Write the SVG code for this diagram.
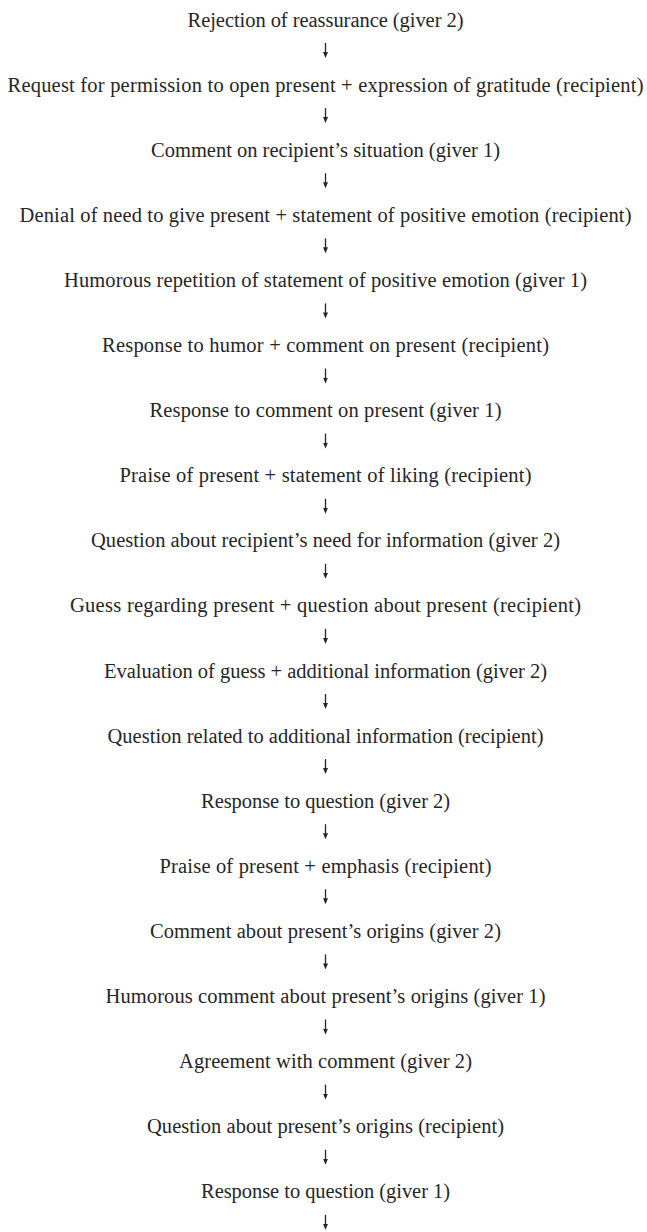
<svg xmlns="http://www.w3.org/2000/svg" width="647" height="1232" viewBox="0 0 647 1232">
<defs>
<style>
.t{font-family:"Liberation Serif","Times New Roman","DejaVu Serif",serif;font-size:20.5px;fill:#262626;text-anchor:middle}
.c{stroke:#262626;stroke-width:1.3;fill:none}
</style>
<marker id="ah" viewBox="0 0 6 5" markerWidth="6" markerHeight="5" refX="0.5" refY="2.5" orient="auto" markerUnits="userSpaceOnUse"><path d="M0,0 L6,2.5 L0,5 z" fill="#262626"/></marker>
</defs>
<rect width="647" height="1232" fill="#fff"/>
<g id="connectors">
<line class="c" x1="325.5" y1="43" x2="325.5" y2="52.5" marker-end="url(#ah)"/>
<line class="c" x1="325.5" y1="108.1" x2="325.5" y2="117.6" marker-end="url(#ah)"/>
<line class="c" x1="325.5" y1="173.2" x2="325.5" y2="182.7" marker-end="url(#ah)"/>
<line class="c" x1="325.5" y1="238.3" x2="325.5" y2="247.8" marker-end="url(#ah)"/>
<line class="c" x1="325.5" y1="303.4" x2="325.5" y2="312.9" marker-end="url(#ah)"/>
<line class="c" x1="325.5" y1="368.5" x2="325.5" y2="378" marker-end="url(#ah)"/>
<line class="c" x1="325.5" y1="433.6" x2="325.5" y2="443.1" marker-end="url(#ah)"/>
<line class="c" x1="325.5" y1="498.7" x2="325.5" y2="508.2" marker-end="url(#ah)"/>
<line class="c" x1="325.5" y1="563.8" x2="325.5" y2="573.3" marker-end="url(#ah)"/>
<line class="c" x1="325.5" y1="628.9" x2="325.5" y2="638.4" marker-end="url(#ah)"/>
<line class="c" x1="325.5" y1="694" x2="325.5" y2="703.5" marker-end="url(#ah)"/>
<line class="c" x1="325.5" y1="759.1" x2="325.5" y2="768.6" marker-end="url(#ah)"/>
<line class="c" x1="325.5" y1="824.2" x2="325.5" y2="833.7" marker-end="url(#ah)"/>
<line class="c" x1="325.5" y1="889.3" x2="325.5" y2="898.8" marker-end="url(#ah)"/>
<line class="c" x1="325.5" y1="954.4" x2="325.5" y2="963.9" marker-end="url(#ah)"/>
<line class="c" x1="325.5" y1="1019.5" x2="325.5" y2="1029" marker-end="url(#ah)"/>
<line class="c" x1="325.5" y1="1084.6" x2="325.5" y2="1094.1" marker-end="url(#ah)"/>
<line class="c" x1="325.5" y1="1149.7" x2="325.5" y2="1159.2" marker-end="url(#ah)"/>
<line class="c" x1="325.5" y1="1214.8" x2="325.5" y2="1224.3" marker-end="url(#ah)"/>
</g>
<g id="n1"><text class="t" x="325.5" y="26.5" textLength="276" lengthAdjust="spacing">Rejection of reassurance (giver 2)</text></g>
<g id="n2"><text class="t" x="325.5" y="91.6" textLength="636" lengthAdjust="spacing">Request for permission to open present + expression of gratitude (recipient)</text></g>
<g id="n3"><text class="t" x="325.5" y="156.7" textLength="349" lengthAdjust="spacing">Comment on recipient’s situation (giver 1)</text></g>
<g id="n4"><text class="t" x="325.5" y="221.8" textLength="612" lengthAdjust="spacing">Denial of need to give present + statement of positive emotion (recipient)</text></g>
<g id="n5"><text class="t" x="325.5" y="286.9" textLength="523" lengthAdjust="spacing">Humorous repetition of statement of positive emotion (giver 1)</text></g>
<g id="n6"><text class="t" x="325.5" y="352" textLength="447" lengthAdjust="spacing">Response to humor + comment on present (recipient)</text></g>
<g id="n7"><text class="t" x="325.5" y="417.1" textLength="352" lengthAdjust="spacing">Response to comment on present (giver 1)</text></g>
<g id="n8"><text class="t" x="325.5" y="482.2" textLength="412" lengthAdjust="spacing">Praise of present + statement of liking (recipient)</text></g>
<g id="n9"><text class="t" x="325.5" y="547.3" textLength="469" lengthAdjust="spacing">Question about recipient’s need for information (giver 2)</text></g>
<g id="n10"><text class="t" x="325.5" y="612.4" textLength="511" lengthAdjust="spacing">Guess regarding present + question about present (recipient)</text></g>
<g id="n11"><text class="t" x="325.5" y="677.5" textLength="443" lengthAdjust="spacing">Evaluation of guess + additional information (giver 2)</text></g>
<g id="n12"><text class="t" x="325.5" y="742.6" textLength="436" lengthAdjust="spacing">Question related to additional information (recipient)</text></g>
<g id="n13"><text class="t" x="325.5" y="807.7" textLength="249" lengthAdjust="spacing">Response to question (giver 2)</text></g>
<g id="n14"><text class="t" x="325.5" y="872.8" textLength="332" lengthAdjust="spacing">Praise of present + emphasis (recipient)</text></g>
<g id="n15"><text class="t" x="325.5" y="937.9" textLength="351" lengthAdjust="spacing">Comment about present’s origins (giver 2)</text></g>
<g id="n16"><text class="t" x="325.5" y="1003" textLength="440" lengthAdjust="spacing">Humorous comment about present’s origins (giver 1)</text></g>
<g id="n17"><text class="t" x="325.5" y="1068.1" textLength="293" lengthAdjust="spacing">Agreement with comment (giver 2)</text></g>
<g id="n18"><text class="t" x="325.5" y="1133.2" textLength="357" lengthAdjust="spacing">Question about present’s origins (recipient)</text></g>
<g id="n19"><text class="t" x="325.5" y="1198.3" textLength="249" lengthAdjust="spacing">Response to question (giver 1)</text></g>
</svg>
